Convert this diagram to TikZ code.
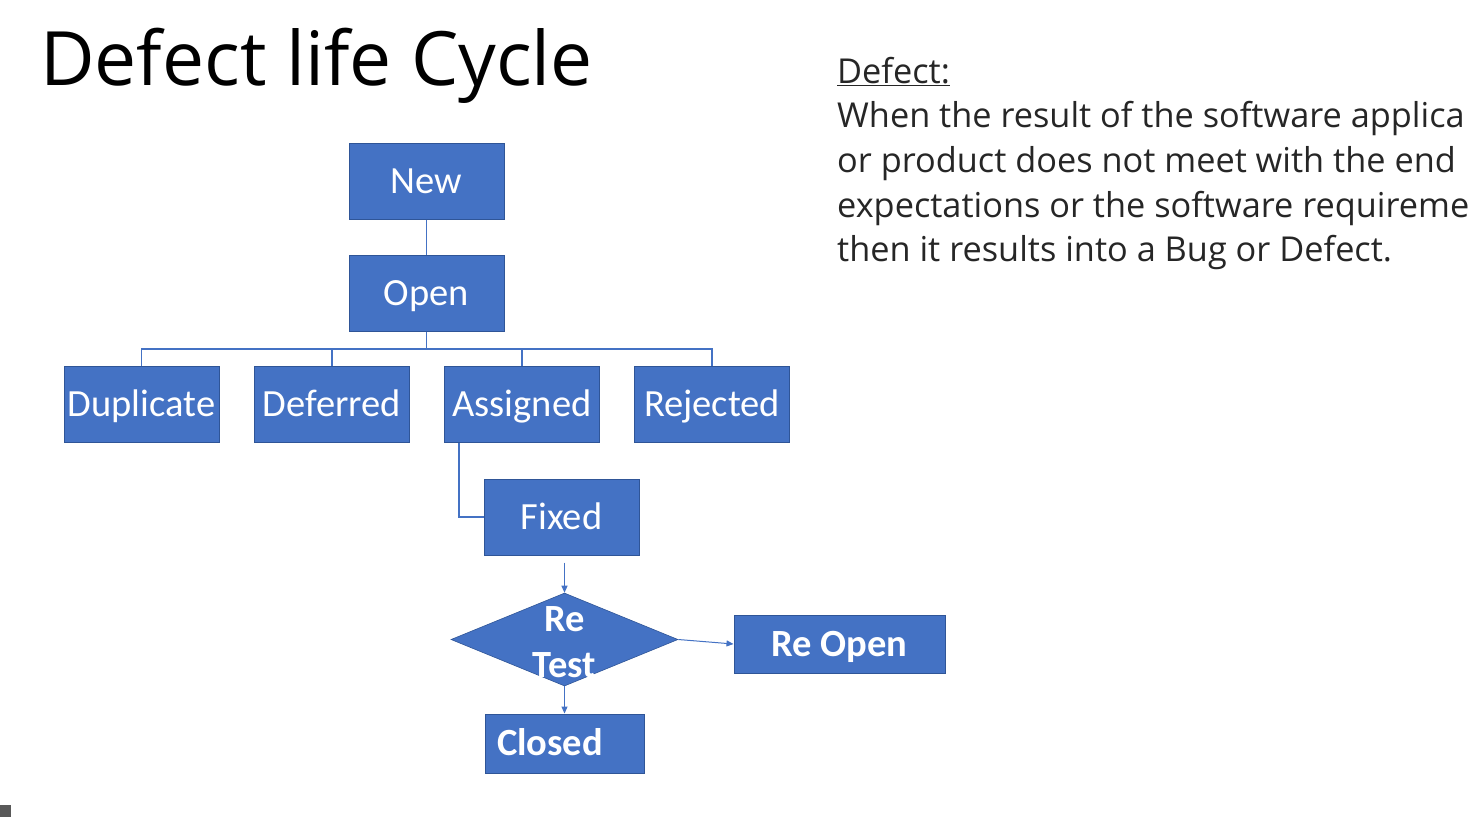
\documentclass[tikz,border=0pt]{standalone}
\usepackage{fontspec}
\setmainfont{Open Sans}
\newfontfamily\boxfont{Carlito}
\usetikzlibrary{shapes.geometric,arrows.meta}
\definecolor{boxblue}{HTML}{4472C4}
\definecolor{boxedge}{HTML}{2F5597}
\definecolor{bodygrey}{HTML}{262626}
\tikzset{
  x=1pt, y=-1pt,
  stepbox/.style={rectangle, fill=boxblue, draw=boxedge, line width=1pt,
    minimum width=155pt, minimum height=76pt, inner sep=0pt,
    text height=24.5pt, text depth=0pt,
    text=white, font=\boxfont\fontsize{38.5}{44}\selectfont},
  boldbox/.style={rectangle, fill=boxblue, draw=boxedge, line width=1pt,
    inner sep=0pt, text height=24.5pt, text depth=0pt,
    text=white, font=\boxfont\bfseries\fontsize{38.5}{44}\selectfont},
  bodytext/.style={anchor=base west, inner sep=0pt, text=bodygrey,
    font=\fontsize{34.3}{42}\selectfont},
  link/.style={draw=boxblue, line width=1.2pt},
  flow/.style={draw=boxblue, line width=1pt, -{Triangle[length=7pt,width=6pt]}},
}
\begin{document}
\begin{tikzpicture}
  \useasboundingbox (0,0) rectangle (1471,817);
  \fill[white] (0,0) rectangle (1471,817);

  % title
  \node[anchor=base west, inner sep=0pt, font=\fontsize{75}{84}\selectfont] (title) at (40,85) {Defect life Cycle};

  % definition text
  \node[bodytext] (deftitle) at (837,83) {\underline{Defect:}};
  \node[bodytext] (line1) at (837,127) {When the result of the software applica};
  \node[bodytext] (line2) at (837,172) {or product does not meet with the end};
  \node[bodytext] (line3) at (837,217) {expectations or the software requireme};
  \node[bodytext] (line4) at (837,261) {then it results into a Bug or Defect.};

  % states
  \node[stepbox] (new) at (426.5,181) {New};
  \node[stepbox] (open) at (426.5,293) {Open};
  \node[stepbox] (dup) at (141.5,404.5) {Duplicate};
  \node[stepbox] (def) at (332,404.5) {Deferred};
  \node[stepbox] (asg) at (522,404.5) {Assigned};
  \node[stepbox] (rej) at (712,404.5) {Rejected};
  \node[stepbox] (fix) at (561.5,517) {Fixed};
  \node[diamond, fill=boxblue, draw=boxedge, line width=0.6pt, inner sep=0pt,
        minimum width=227pt, minimum height=93pt] (retest) at (564.5,639.5) {};
  \node[text=white, font=\boxfont\bfseries\fontsize{38.5}{46}\selectfont, align=center, inner sep=0pt] (retestlabel) at (564.5,642) {Re\\Test};
  \node[boldbox, minimum width=211pt, minimum height=58pt] (reopen) at (839.5,644) {Re Open};
  \node[boldbox, minimum width=159pt, minimum height=59pt, text width=135pt, align=left] (closed) at (564.5,743.5) {Closed};

  % tree links
  \draw[link] (new.south) -- (open.north);
  \coordinate (bus) at (426.5,349);
  \draw[link] (open.south) -- (bus);
  \draw[link] (dup.north) |- (bus) -| (rej.north);
  \draw[link] (def.north) -- (def.north |- bus);
  \draw[link] (asg.north) -- (asg.north |- bus);
  \draw[link] ([xshift=-63pt]asg.south) |- (fix.west);

  % flow arrows
  \draw[flow] ([yshift=-7pt]retest.north |- fix.south) -- (retest.north);
  \draw[flow] (retest.east) -- (reopen.west);
  \draw[flow] (retest.south) -- (closed.north);

  % small corner mark
  \fill[gray!70!black] (0,805) rectangle (11,817);
\end{tikzpicture}
\end{document}
